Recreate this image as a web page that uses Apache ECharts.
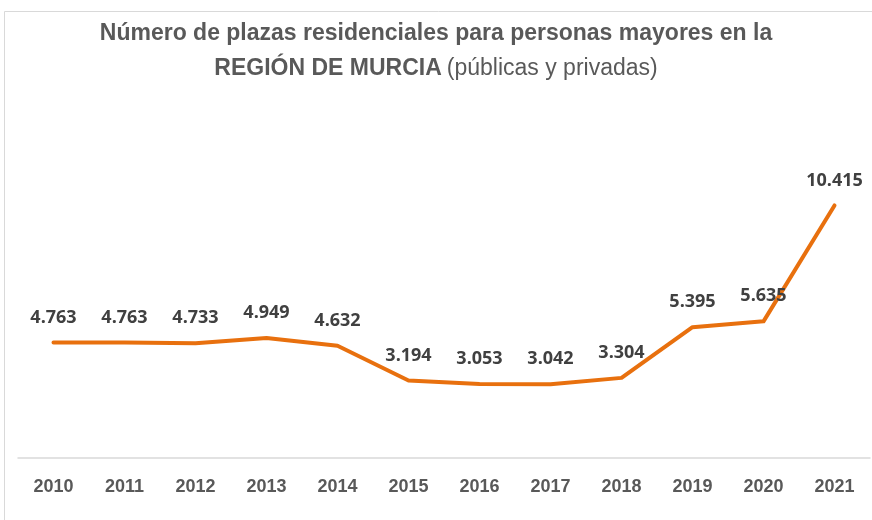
<!DOCTYPE html>
<html>
<head>
<meta charset="utf-8">
<script src="https://cdn.jsdelivr.net/npm/echarts@6/dist/echarts.min.js"></script>
<style>
  html, body { margin: 0; padding: 0; background: #ffffff; }
  #chart { width: 872px; height: 520px; }
</style>
</head>
<body>
<div id="chart"></div>
<script>
// Residential places for elderly people, Región de Murcia
const years = ['2010', '2011', '2012', '2013', '2014', '2015', '2016', '2017', '2018', '2019', '2020', '2021'];
const plazas = [4763, 4763, 4733, 4949, 4632, 3194, 3053, 3042, 3304, 5395, 5635, 10415];

const textFont = '"Liberation Sans", Arial, sans-serif';
const labelFont = '"Open Sans", "Noto Sans", sans-serif';

// Spanish thousands separator: 4763 -> 4.763
function fmt(v) {
  return String(v).replace(/\B(?=(\d{3})+(?!\d))/g, '.');
}

const chart = echarts.init(document.getElementById('chart'), null, { renderer: 'canvas' });

chart.setOption({
  backgroundColor: '#ffffff',
  animation: false,
  title: {
    left: 'center',
    top: 11,
    text: '{b|Número de plazas residenciales para personas mayores en la}\n{b|REGIÓN DE MURCIA} {n|(públicas y privadas)}',
    textStyle: {
      rich: {
        b: { fontFamily: textFont, fontWeight: 'bold', fontSize: 23, color: '#595959', lineHeight: 35 },
        n: { fontFamily: textFont, fontWeight: 'normal', fontSize: 23, color: '#595959', lineHeight: 35 }
      }
    }
  },
  graphic: [{
    type: 'rect',
    shape: { x: 4.5, y: 11.5, width: 880, height: 520 },
    style: { fill: 'none', stroke: '#d9d9d9', lineWidth: 1 },
    silent: true
  }],
  grid: { left: 18, right: 2, top: 167, bottom: 62 },
  xAxis: {
    type: 'category',
    data: years,
    boundaryGap: true,
    axisLine: { show: true, lineStyle: { color: '#d9d9d9', width: 1.5 } },
    axisTick: { show: false },
    axisLabel: {
      margin: 20,
      fontFamily: textFont,
      fontWeight: 'bold',
      fontSize: 18,
      color: '#595959'
    }
  },
  yAxis: {
    type: 'value',
    min: 0,
    max: 12000,
    interval: 2000,
    show: false,
    splitLine: { show: false }
  },
  series: [{
    type: 'line',
    data: plazas,
    symbol: 'circle',
    symbolSize: 0,
    showSymbol: true,
    showAllSymbol: true,
    lineStyle: { color: '#e8700e', width: 4, cap: 'round', join: 'round' },
    itemStyle: { color: '#e8700e' },
    label: {
      show: true,
      position: 'top',
      distance: 16,
      formatter: p => fmt(p.value),
      fontFamily: labelFont,
      fontWeight: 'bold',
      fontSize: 18,
      color: '#404040'
    }
  }]
});
</script>
</body>
</html>
